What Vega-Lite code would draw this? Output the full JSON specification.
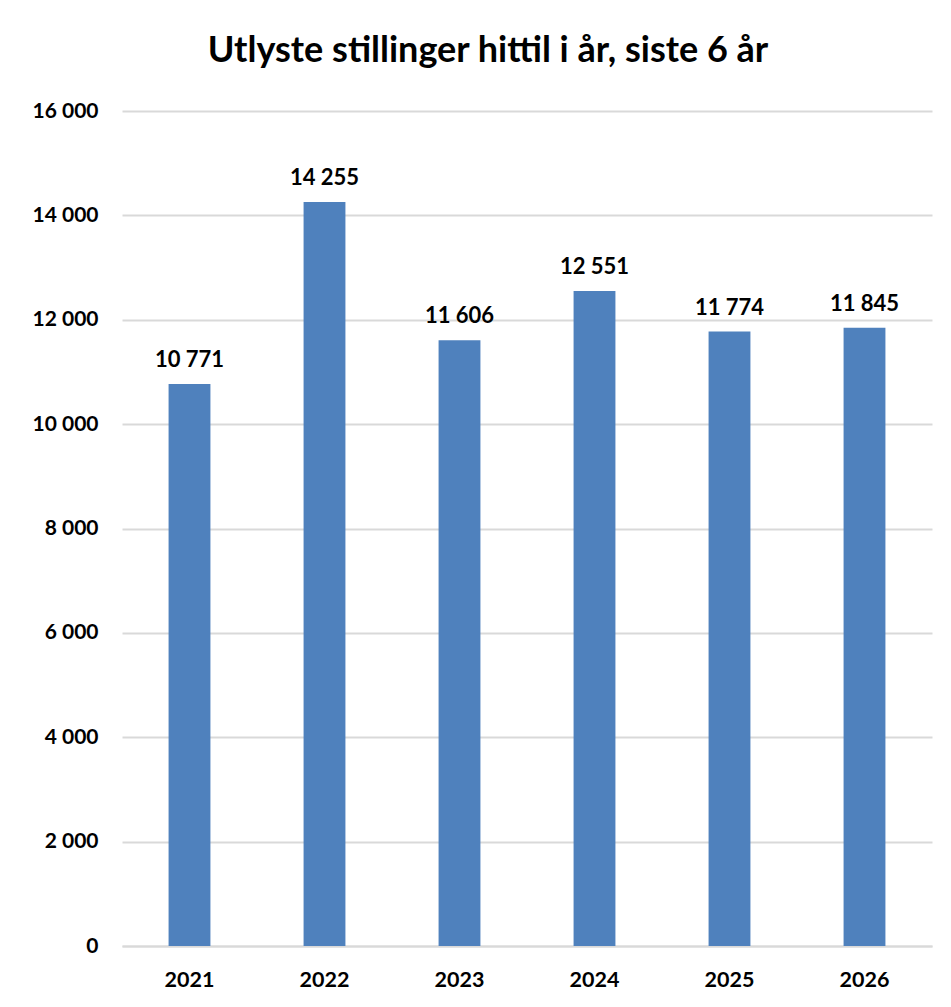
{
  "$schema": "https://vega.github.io/schema/vega-lite/v6.json",
  "autosize": "none",
  "width": 810,
  "height": 835,
  "padding": {"left": 122, "top": 111, "right": 19, "bottom": 61},
  "background": "white",
  "title": {
    "text": "Utlyste stillinger hittil i år, siste 6 år",
    "font": "Lato",
    "fontSize": 36,
    "fontWeight": "bold",
    "color": "#000000",
    "anchor": "middle",
    "dx": -39,
    "offset": 30
  },
  "data": {
    "values": [
      {"year": "2021", "value": 10771},
      {"year": "2022", "value": 14255},
      {"year": "2023", "value": 11606},
      {"year": "2024", "value": 12551},
      {"year": "2025", "value": 11774},
      {"year": "2026", "value": 11845}
    ]
  },
  "encoding": {
    "x": {
      "field": "year",
      "type": "nominal",
      "scale": {"paddingInner": 0.69, "paddingOuter": 0.345},
      "axis": {
        "title": null,
        "labelAngle": 0,
        "labelFont": "Lato",
        "labelFontSize": 21.5,
        "labelFontWeight": "bold",
        "labelColor": "#000000",
        "labelPadding": 23,
        "ticks": false,
        "domain": true,
        "domainColor": "#d9d9d9",
        "domainWidth": 2
      }
    },
    "y": {
      "field": "value",
      "type": "quantitative",
      "scale": {"domain": [0, 16000], "nice": false},
      "axis": {
        "title": null,
        "values": [0, 2000, 4000, 6000, 8000, 10000, 12000, 14000, 16000],
        "labelExpr": "replace(format(datum.value, ','), ',', ' ')",
        "labelFont": "Lato",
        "labelFontSize": 21,
        "labelFontWeight": "bold",
        "labelColor": "#000000",
        "labelPadding": 24,
        "ticks": false,
        "domain": false,
        "grid": true,
        "gridColor": "#d9d9d9",
        "gridWidth": 2
      }
    }
  },
  "layer": [
    {
      "mark": {"type": "bar", "color": "#4F81BD"}
    },
    {
      "mark": {
        "type": "text",
        "baseline": "bottom",
        "dy": -12,
        "font": "Lato",
        "fontSize": 22,
        "fontWeight": "bold",
        "color": "#000000"
      },
      "encoding": {
        "text": {"field": "label"}
      },
      "transform": [
        {"calculate": "replace(format(datum.value, ','), ',', ' ')", "as": "label"}
      ]
    }
  ],
  "config": {
    "view": {"stroke": null}
  }
}
